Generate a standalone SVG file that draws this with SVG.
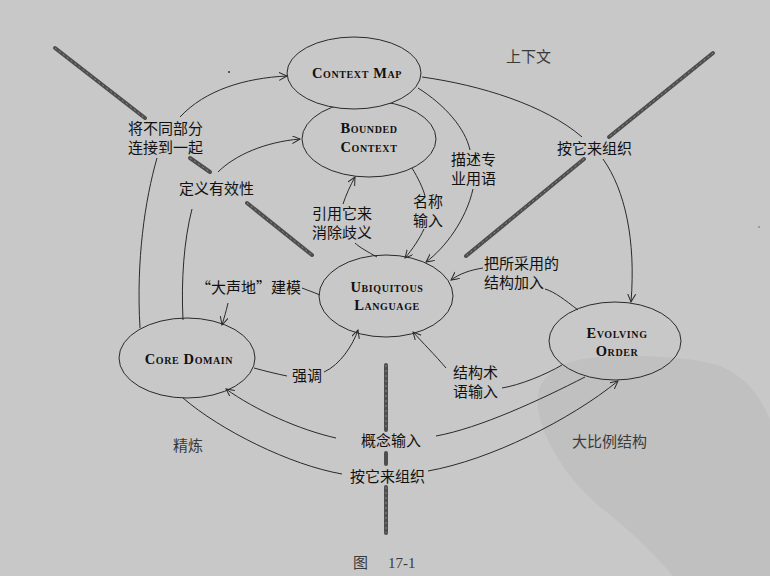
<svg xmlns="http://www.w3.org/2000/svg" width="770" height="576" viewBox="0 0 770 576">
<style>
.bg{fill:#c8c8c8}
.blob{fill:#c0c0c0}
.node ellipse{fill:#c8c8c8;stroke:#2a2a2a;stroke-width:1}
.node ellipse.clear{fill:none}
.nt{font-family:"Liberation Serif",serif;font-weight:bold;font-variant:small-caps;font-size:14.5px;letter-spacing:0.6px;fill:#111;text-anchor:middle}
.lb{font-family:"Noto Sans CJK SC",sans-serif;font-size:15px;fill:#111}
.lt{font-family:"Liberation Serif","Noto Sans CJK SC",serif;font-size:15px;fill:#3a3a3a}
.conn path{fill:none;stroke:#2a2a2a;stroke-width:1}
.bar{stroke:#4e4e4e;stroke-width:4;stroke-linecap:round;fill:none}
.bart{stroke:#8a8a8a;stroke-width:1;stroke-dasharray:2 3;fill:none}
</style>
<defs>
<marker id="arr" markerWidth="10" markerHeight="10" refX="8" refY="4" orient="auto" markerUnits="userSpaceOnUse">
<path d="M0,0 L8,4 L0,8" fill="none" stroke="#2a2a2a" stroke-width="1"/>
</marker>
</defs>
<rect class="bg" x="0" y="0" width="770" height="576"/>
<path class="blob" d="M540,387 C548,372 560,362 590,358 C630,354 690,356 720,366 C745,376 760,395 770,420 L770,576 L673,576 C655,555 630,530 600,507 C575,485 560,465 548,440 C538,420 535,400 540,387 Z"/>
<circle cx="229" cy="72" r="1" fill="#333"/>
<circle cx="759" cy="227" r="0.8" fill="#666"/>

<g id="boundaries">
<path class="bar" d="M55,48 L145,118"/><path class="bart" d="M55,48 L145,118"/>
<path class="bar" d="M190,158 L210,172"/><path class="bart" d="M190,158 L210,172"/>
<path class="bar" d="M247,203 L312,255"/><path class="bart" d="M247,203 L312,255"/>
<path class="bar" d="M713,53 L609,137"/><path class="bart" d="M713,53 L609,137"/>
<path class="bar" d="M584,159 L466,256"/><path class="bart" d="M584,159 L466,256"/>
<path class="bar" d="M386,365 L386,430"/><path class="bart" d="M386,365 L386,430"/>
<path class="bar" d="M386,453 L386,464"/>
<path class="bar" d="M386,487 L386,533"/><path class="bart" d="M386,487 L386,533"/>
</g>

<g id="bounded-context" class="node">
<ellipse cx="369" cy="139" rx="67" ry="38"/>
<text class="nt" x="369" y="133">Bounded</text>
<text class="nt" x="369" y="152">Context</text>
</g>
<g id="context-map" class="node">
<ellipse cx="354" cy="73" rx="67" ry="36"/>
<text class="nt" x="357" y="78">Context Map</text>
</g>
<g id="ubiquitous-language" class="node">
<ellipse cx="386" cy="296" rx="67" ry="41"/>
<text class="nt" x="387" y="292">Ubiquitous</text>
<text class="nt" x="387" y="310">Language</text>
</g>
<g id="core-domain" class="node">
<ellipse cx="187" cy="358" rx="68" ry="40"/>
<text class="nt" x="189" y="364">Core Domain</text>
</g>
<g id="evolving-order" class="node">
<ellipse class="clear" cx="615" cy="341" rx="66" ry="39"/>
<text class="nt" x="617" y="338">Evolving</text>
<text class="nt" x="617" y="356">Order</text>
</g>

<g id="connectors" class="conn">
<path d="M157,158 C145,200 136,260 140,328"/>
<path d="M180,117 C205,90 245,78 287,76" marker-end="url(#arr)"/>
<path d="M192,209 C184,240 181,280 183,320"/>
<path d="M218,172 C235,155 265,142 300,139" marker-end="url(#arr)"/>
<path d="M377,257 C368,252 359,247 355,243"/>
<path d="M343,204 C346,195 350,186 355,177" marker-end="url(#arr)"/>
<path d="M412,168 C418,178 423,188 425,196"/>
<path d="M424,229 C420,238 412,250 405,258" marker-end="url(#arr)"/>
<path d="M418,88 C445,105 465,128 470,150"/>
<path d="M473,189 C466,220 445,248 426,262" marker-end="url(#arr)"/>
<path d="M422,77 C480,85 545,105 582,137"/>
<path d="M603,159 C625,190 636,240 631,302" marker-end="url(#arr)"/>
<path d="M578,310 C565,300 555,292 545,289"/>
<path d="M483,268 C470,270 459,274 451,280" marker-end="url(#arr)"/>
<path d="M320,295 C313,292 307,290 302,288"/>
<path d="M228,303 C226,312 224,318 222,325" marker-end="url(#arr)"/>
<path d="M254,368 C265,371 277,374 287,376"/>
<path d="M324,372 C340,365 353,345 358,330" marker-end="url(#arr)"/>
<path d="M562,365 C545,375 520,385 502,388"/>
<path d="M446,368 C435,355 422,342 413,332" marker-end="url(#arr)"/>
<path d="M585,377 C540,400 480,428 436,436"/>
<path d="M336,438 C300,430 255,410 226,389" marker-end="url(#arr)"/>
<path d="M183,398 C220,430 290,465 342,474"/>
<path d="M428,471 C490,460 570,420 618,381" marker-end="url(#arr)"/>
</g>

<g id="labels">
<text class="lb" x="128" y="134">将不同部分</text>
<text class="lb" x="128" y="153">连接到一起</text>
<text class="lb" x="179" y="194">定义有效性</text>
<text class="lb" x="312" y="219">引用它来</text>
<text class="lb" x="312" y="238">消除歧义</text>
<text class="lb" x="413" y="207">名称</text>
<text class="lb" x="413" y="226">输入</text>
<text class="lb" x="451" y="165">描述专</text>
<text class="lb" x="451" y="184">业用语</text>
<text class="lb" x="557" y="154">按它来组织</text>
<text class="lb" x="484" y="269">把所采用的</text>
<text class="lb" x="484" y="288">结构加入</text>
<text class="lb" x="196" y="293">“大声地”建模</text>
<text class="lb" x="292" y="381">强调</text>
<text class="lb" x="453" y="378">结构术</text>
<text class="lb" x="453" y="397">语输入</text>
<text class="lb" x="361" y="446">概念输入</text>
<text class="lb" x="350" y="482">按它来组织</text>
<text class="lt" x="506" y="62">上下文</text>
<text class="lt" x="173" y="451">精炼</text>
<text class="lt" x="572" y="447">大比例结构</text>
<text class="lt" x="353" y="568">图</text>
<text class="lt" x="388" y="568">17-1</text>
</g>
</svg>
